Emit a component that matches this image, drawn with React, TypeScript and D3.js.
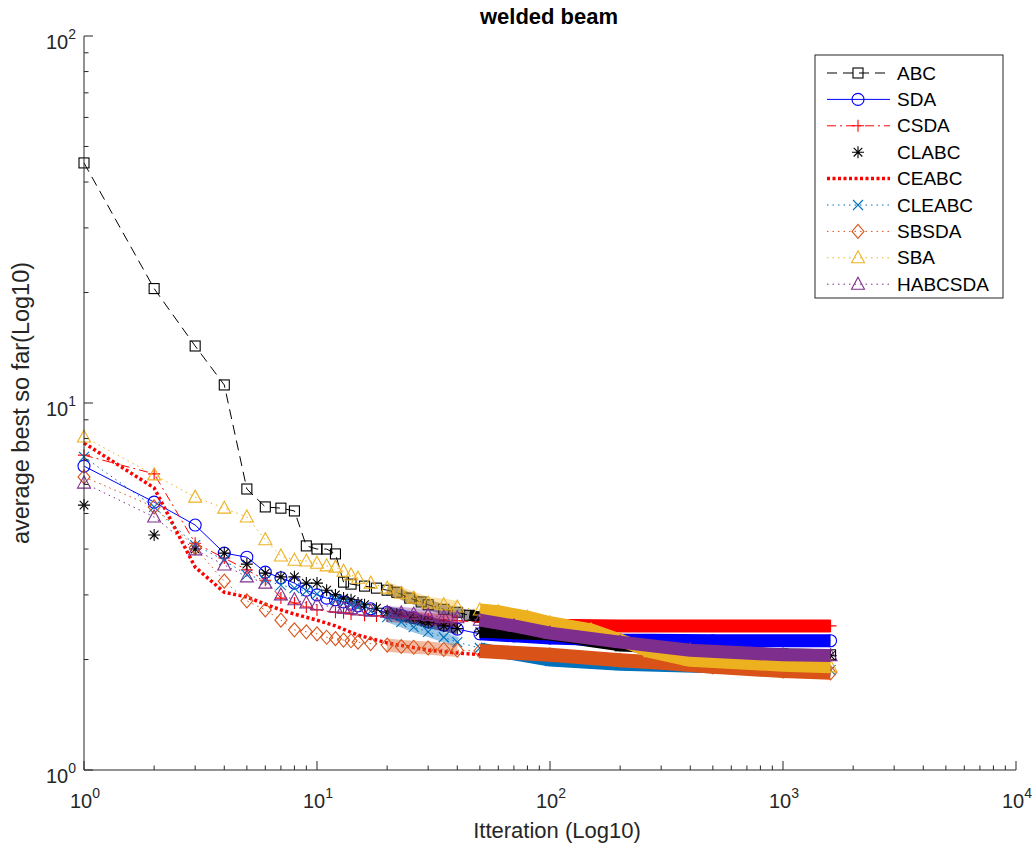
import React from "react";
import * as d3 from "d3";

// ---------- data ----------
const seriesNames = ["ABC", "SDA", "CSDA", "CLABC", "CEABC", "CLEABC", "SBSDA", "SBA", "HABCSDA"];

const abcIter = [1, 2, 3, 4, 5, 6, 7, 8, 9, 10, 11, 12, 13, 14, 16, 18, 20, 22, 25, 28, 30, 35, 40, 45, 50, 70, 100, 200, 500, 1000, 1600];
const abcVal = [45.1, 20.5, 14.3, 11.2, 5.83, 5.21, 5.17, 5.08, 4.08, 4.0, 4.0, 3.88, 3.25, 3.21, 3.17, 3.13, 3.09, 3.05, 2.94, 2.87, 2.82, 2.74, 2.69, 2.64, 2.61, 2.47, 2.32, 2.18, 2.1, 2.07, 2.06];

const sdaIter = [1, 2, 3, 4, 5, 6, 7, 8, 9, 10, 11, 12, 13, 14, 15, 17, 20, 23, 26, 30, 35, 40, 50, 70, 100, 200, 500, 1600];
const sdaVal = [6.73, 5.37, 4.65, 3.9, 3.8, 3.46, 3.34, 3.23, 3.09, 3.0, 2.94, 2.91, 2.87, 2.83, 2.8, 2.75, 2.69, 2.64, 2.6, 2.53, 2.48, 2.42, 2.35, 2.32, 2.29, 2.26, 2.25, 2.25];

const csdaIter = [1, 2, 3, 4, 5, 6, 7, 8, 9, 10, 12, 13, 14, 16, 18, 20, 23, 26, 30, 35, 40, 50, 100, 200, 500, 1600];
const csdaVal = [7.21, 6.41, 4.15, 3.78, 3.51, 3.29, 2.94, 2.85, 2.78, 2.73, 2.69, 2.68, 2.66, 2.64, 2.63, 2.63, 2.61, 2.6, 2.58, 2.56, 2.55, 2.53, 2.48, 2.47, 2.47, 2.47];

const clabcIter = [1, 2, 3, 4, 5, 6, 7, 8, 9, 10, 11, 12, 13, 14, 15, 16, 18, 20, 22, 25, 28, 30, 35, 40, 50, 70, 100, 150, 200, 400, 1000, 1600];
const clabcVal = [5.27, 4.37, 4.0, 3.9, 3.64, 3.44, 3.36, 3.36, 3.23, 3.23, 3.09, 3.0, 2.94, 2.91, 2.85, 2.82, 2.76, 2.69, 2.66, 2.6, 2.55, 2.52, 2.47, 2.43, 2.38, 2.36, 2.34, 2.26, 2.22, 2.12, 2.06, 2.05];

const ceabcIter = [1, 2, 3, 4, 5, 6, 7, 8, 10, 12, 15, 20, 30, 50, 100, 300, 1600];
const ceabcVal = [7.78, 5.87, 3.57, 3.05, 2.96, 2.83, 2.73, 2.66, 2.56, 2.47, 2.33, 2.22, 2.12, 2.06, 1.97, 1.9, 1.85];

const cleabcIter = [1, 2, 3, 4, 5, 6, 7, 8, 9, 10, 12, 13, 14, 15, 17, 20, 23, 26, 30, 35, 40, 50, 70, 100, 200, 500, 1600];
const cleabcVal = [7.13, 5.21, 4.1, 3.73, 3.4, 3.29, 3.19, 3.13, 3.07, 3.02, 2.91, 2.85, 2.82, 2.78, 2.71, 2.61, 2.53, 2.45, 2.38, 2.3, 2.23, 2.15, 2.06, 1.98, 1.93, 1.9, 1.87];

const sbsdaIter = [1, 2, 3, 4, 5, 6, 7, 8, 9, 10, 11, 12, 13, 14, 15, 17, 20, 23, 26, 30, 35, 40, 50, 100, 200, 300, 500, 1000, 1600];
const sbsdaVal = [6.29, 5.21, 4.03, 3.27, 2.89, 2.73, 2.56, 2.41, 2.38, 2.35, 2.3, 2.28, 2.26, 2.25, 2.23, 2.21, 2.19, 2.17, 2.16, 2.15, 2.13, 2.12, 2.11, 2.06, 1.99, 1.96, 1.91, 1.86, 1.84];

const sbaIter = [1, 2, 3, 4, 5, 6, 7, 8, 9, 10, 11, 12, 13, 14, 15, 17, 20, 23, 26, 30, 35, 40, 50, 60, 80, 100, 150, 200, 270, 400, 1000, 1600];
const sbaVal = [8.08, 6.37, 5.54, 5.17, 4.89, 4.24, 3.83, 3.73, 3.71, 3.66, 3.6, 3.57, 3.48, 3.4, 3.33, 3.23, 3.13, 3.03, 2.94, 2.85, 2.82, 2.78, 2.73, 2.7, 2.61, 2.52, 2.41, 2.26, 2.1, 1.99, 1.93, 1.91];

const habcsdaIter = [1, 2, 3, 4, 5, 6, 7, 8, 9, 10, 12, 13, 14, 15, 17, 20, 23, 26, 30, 35, 40, 50, 70, 100, 200, 400, 1000, 1600];
const habcsdaVal = [6.05, 4.89, 3.98, 3.62, 3.36, 3.23, 3.0, 2.91, 2.85, 2.82, 2.78, 2.76, 2.75, 2.73, 2.71, 2.69, 2.68, 2.66, 2.64, 2.61, 2.6, 2.56, 2.47, 2.36, 2.23, 2.12, 2.06, 2.05];

const xTickValues = [1, 10, 100, 1000, 10000];
const xTickExps = ["0", "1", "2", "3", "4"];
const yTickValues = [1, 10, 100];
const yTickExps = ["0", "1", "2"];

// ---------- styles ----------
type Marker = "square" | "circle" | "plus" | "asterisk" | "x" | "diamond" | "triangle" | null;
interface Style { color: string; dash: string | null; width: number; marker: Marker; band: number; line: boolean }

const styles: Style[] = [
  { color: "#000000", dash: "10,6", width: 1, marker: "square", band: 11, line: true },
  { color: "#0000ff", dash: null, width: 1, marker: "circle", band: 13, line: true },
  { color: "#ff0000", dash: "9,4,2,4", width: 1, marker: "plus", band: 13, line: true },
  { color: "#000000", dash: null, width: 1, marker: "asterisk", band: 12, line: false },
  { color: "#ff0000", dash: "3,2.5", width: 3.5, marker: null, band: 0, line: true },
  { color: "#0072BD", dash: "1.5,4", width: 1, marker: "x", band: 11, line: true },
  { color: "#D95319", dash: "1.5,4", width: 1, marker: "diamond", band: 14, line: true },
  { color: "#EDB120", dash: "1.5,4", width: 1, marker: "triangle", band: 13, line: true },
  { color: "#7E2F8E", dash: "1.5,4", width: 1, marker: "triangle", band: 13, line: true },
];

const iterLists = [abcIter, sdaIter, csdaIter, clabcIter, ceabcIter, cleabcIter, sbsdaIter, sbaIter, habcsdaIter];
const valLists = [abcVal, sdaVal, csdaVal, clabcVal, ceabcVal, cleabcVal, sbsdaVal, sbaVal, habcsdaVal];

const W = 1035;
const H = 849;
const LEFT = 84, RIGHT = 1016, TOP = 36, BOTTOM = 770;
const SOFT_BAND_START = 20;
const BAND_START = 45;
const FONT = "'Liberation Sans', Arial, Helvetica, sans-serif";
const AXIS_COLOR = "#262626";

const xScale = d3.scaleLog().domain([1, 1e4]).range([LEFT, RIGHT]);
const yScale = d3.scaleLog().domain([1, 100]).range([BOTTOM, TOP]);

function MarkerShape({ type, x, y, color }: { type: Marker; x: number; y: number; color: string }) {
  const sw = 1.1;
  switch (type) {
    case "square":
      return <rect x={x - 5} y={y - 5} width={10} height={10} fill="none" stroke={color} strokeWidth={sw} />;
    case "circle":
      return <circle cx={x} cy={y} r={6} fill="none" stroke={color} strokeWidth={sw} />;
    case "plus":
      return <path d={`M${x - 6},${y}H${x + 6}M${x},${y - 6}V${y + 6}`} stroke={color} strokeWidth={sw} fill="none" />;
    case "x":
      return <path d={`M${x - 5},${y - 5}L${x + 5},${y + 5}M${x - 5},${y + 5}L${x + 5},${y - 5}`} stroke={color} strokeWidth={sw} fill="none" />;
    case "asterisk":
      return (
        <path
          d={`M${x - 6},${y}H${x + 6}M${x},${y - 6}V${y + 6}M${x - 4.3},${y - 4.3}L${x + 4.3},${y + 4.3}M${x - 4.3},${y + 4.3}L${x + 4.3},${y - 4.3}`}
          stroke={color}
          strokeWidth={sw}
          fill="none"
        />
      );
    case "diamond":
      return <path d={`M${x},${y - 7}L${x + 6},${y}L${x},${y + 7}L${x - 6},${y}Z`} stroke={color} strokeWidth={sw} fill="none" />;
    case "triangle":
      return <path d={`M${x},${y - 7}L${x + 6.5},${y + 5}L${x - 6.5},${y + 5}Z`} stroke={color} strokeWidth={sw} fill="none" />;
    default:
      return null;
  }
}

export default function App() {
  const line = d3
    .line<[number, number]>()
    .x((d) => xScale(d[0]))
    .y((d) => yScale(d[1]));

  const minorX: number[] = [];
  for (let e = 0; e < 4; e++) for (let k = 2; k <= 9; k++) minorX.push(k * Math.pow(10, e));
  const minorY: number[] = [];
  for (let e = 0; e < 2; e++) for (let k = 2; k <= 9; k++) minorY.push(k * Math.pow(10, e));

  const legendTop = 73;
  const legendStep = 26.4;

  return (
    <svg width={W} height={H} style={{ position: "absolute", left: 0, top: 0, background: "#fff" }} fontFamily={FONT}>
      <rect x={0} y={0} width={W} height={H} fill="#ffffff" />

      {/* series */}
      <g>
        {seriesNames.map((name, si) => {
          const st = styles[si];
          const pts: [number, number][] = iterLists[si].map((it, i) => [it, valLists[si][i]]);
          const softPts = pts.filter((p) => p[0] >= SOFT_BAND_START && p[0] <= BAND_START);
          const bandPts = pts.filter((p) => p[0] >= BAND_START);
          return (
            <g key={name}>
              {st.line && (
                <path
                  d={line(pts) || ""}
                  fill="none"
                  stroke={st.color}
                  strokeWidth={st.width}
                  strokeDasharray={st.dash || undefined}
                />
              )}
              {st.band > 0 && (
                <path
                  d={line(softPts) || ""}
                  fill="none"
                  stroke={st.color}
                  strokeOpacity={0.4}
                  strokeWidth={st.band - 1}
                  strokeLinejoin="round"
                  strokeLinecap="butt"
                />
              )}
              {st.band > 0 && (
                <path
                  d={line(bandPts) || ""}
                  fill="none"
                  stroke={st.color}
                  strokeWidth={st.band}
                  strokeLinejoin="round"
                  strokeLinecap="butt"
                />
              )}
              {st.marker &&
                pts.map((p, i) => (
                  <MarkerShape key={i} type={st.marker} x={xScale(p[0])} y={yScale(p[1])} color={st.color} />
                ))}
            </g>
          );
        })}
      </g>

      {/* axes */}
      <g stroke={AXIS_COLOR} strokeWidth={1} fill="none">
        <line x1={LEFT} y1={BOTTOM} x2={RIGHT} y2={BOTTOM} />
        <line x1={LEFT} y1={TOP} x2={LEFT} y2={BOTTOM} />
        {xTickValues.map((v) => (
          <line key={"xt" + v} x1={xScale(v)} x2={xScale(v)} y1={BOTTOM} y2={BOTTOM - 9} />
        ))}
        {minorX.map((v) => (
          <line key={"xm" + v} x1={xScale(v)} x2={xScale(v)} y1={BOTTOM} y2={BOTTOM - 4.5} />
        ))}
        {yTickValues.map((v) => (
          <line key={"yt" + v} x1={LEFT} x2={LEFT + 9} y1={yScale(v)} y2={yScale(v)} />
        ))}
        {minorY.map((v) => (
          <line key={"ym" + v} x1={LEFT} x2={LEFT + 4.5} y1={yScale(v)} y2={yScale(v)} />
        ))}
      </g>

      {/* tick labels */}
      <g fill={AXIS_COLOR} fontSize={20}>
        {xTickValues.map((v, i) => (
          <text key={"xl" + v} x={xScale(v) + 1} y={BOTTOM + 38} textAnchor="middle">
            10
            <tspan fontSize={14} dy={-10}>
              {xTickExps[i]}
            </tspan>
          </text>
        ))}
        {yTickValues.map((v, i) => (
          <text key={"yl" + v} x={LEFT - 8} y={yScale(v) + 13} textAnchor="end">
            10
            <tspan fontSize={14} dy={-10}>
              {yTickExps[i]}
            </tspan>
          </text>
        ))}
      </g>

      {/* axis labels and title */}
      <text x={557} y={838} textAnchor="middle" fontSize={22} fill={AXIS_COLOR}>
        Itteration (Log10)
      </text>
      <text
        transform={`translate(29,${(TOP + BOTTOM) / 2}) rotate(-90)`}
        textAnchor="middle"
        fontSize={23.5}
        fill={AXIS_COLOR}
      >
        average best so far(Log10)
      </text>
      <text x={(LEFT + RIGHT) / 2 - 1} y={24} textAnchor="middle" fontSize={22} fontWeight="bold" fill="#000">
        welded beam
      </text>

      {/* legend */}
      <g>
        <rect x={815} y={55} width={188} height={243} fill="#fff" stroke={AXIS_COLOR} strokeWidth={1} />
        {seriesNames.map((name, si) => {
          const st = styles[si];
          const ly = legendTop + si * legendStep;
          return (
            <g key={"lg" + name}>
              {st.line && (
                <line
                  x1={827}
                  x2={890}
                  y1={ly}
                  y2={ly}
                  stroke={st.color}
                  strokeWidth={st.width}
                  strokeDasharray={st.dash || undefined}
                />
              )}
              {st.marker && <MarkerShape type={st.marker} x={858} y={ly} color={st.color} />}
              <text x={897} y={ly} dominantBaseline="central" fontSize={19} fill="#000">
                {name}
              </text>
            </g>
          );
        })}
      </g>
    </svg>
  );
}
